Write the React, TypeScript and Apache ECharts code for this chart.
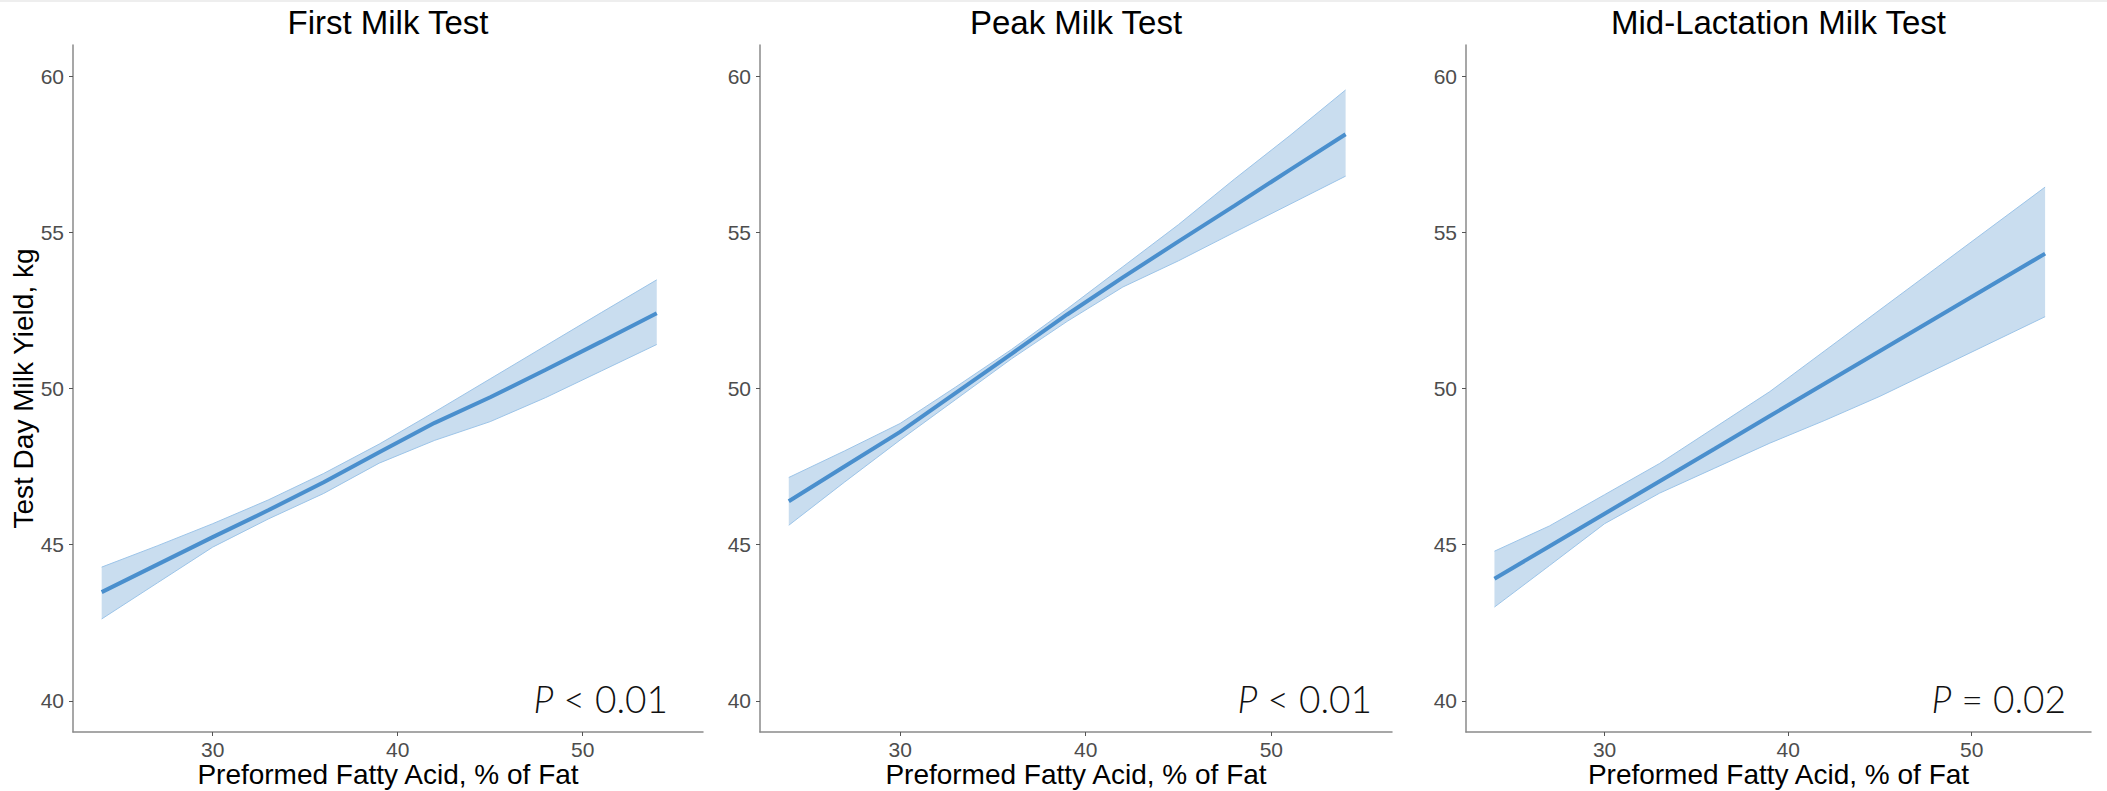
import React, { useEffect, useRef } from "react";
import * as echarts from "echarts";

// Preformed fatty acid (% of fat) at which the fitted curves were read
const fattyAcid = [24, 27, 30, 33, 36, 39, 42, 45, 48, 51, 54];

// First milk test
const firstFit = [43.48, 44.36, 45.24, 46.1, 47.0, 47.96, 48.9, 49.72, 50.6, 51.5, 52.41];
const firstUpper = [44.28, 44.96, 45.67, 46.43, 47.28, 48.22, 49.25, 50.31, 51.37, 52.43, 53.48];
const firstLower = [42.62, 43.77, 44.92, 45.82, 46.64, 47.61, 48.34, 48.94, 49.71, 50.56, 51.41];

// Peak milk test
const peakFit = [46.39, 47.5, 48.61, 49.86, 51.11, 52.37, 53.56, 54.71, 55.85, 57.0, 58.14];
const peakUpper = [47.15, 48.0, 48.88, 50.05, 51.25, 52.55, 53.9, 55.25, 56.7, 58.1, 59.56];
const peakLower = [45.62, 47.0, 48.35, 49.65, 50.95, 52.15, 53.25, 54.09, 55.0, 55.9, 56.8];

// Mid-lactation milk test
const midFit = [43.91, 44.95, 45.99, 47.03, 48.07, 49.12, 50.16, 51.2, 52.24, 53.28, 54.32];
const midUpper = [44.79, 45.6, 46.6, 47.6, 48.75, 49.9, 51.21, 52.52, 53.83, 55.14, 56.45];
const midLower = [43.0, 44.33, 45.67, 46.65, 47.45, 48.25, 48.98, 49.75, 50.6, 51.45, 52.3];

const panelTitles = ["First Milk Test", "Peak Milk Test", "Mid-Lactation Milk Test"];
const pValues = ["< 0.01", "< 0.01", "= 0.02"];
const xTicks = [30, 40, 50];
const yTicks = [40, 45, 50, 55, 60];
const xTitle = "Preformed Fatty Acid, % of Fat";
const yTitle = "Test Day Milk Yield, kg";

const fits = [firstFit, peakFit, midFit];
const uppers = [firstUpper, peakUpper, midUpper];
const lowers = [firstLower, peakLower, midLower];

// layout
const grids = [
  { left: 73, width: 630 },
  { left: 760, width: 632 },
  { left: 1466, width: 625 },
];
const GRID_TOP = 45;
const GRID_H = 687;
const pRight = [668, 1372, 2066];

const FONT = "'Liberation Sans', Arial, sans-serif";
const PFONT = "Lato, 'Open Sans', sans-serif";
const PSIZE = 37;
const LINE = "#4a8fcd";
const FILL = "#c9ddef";
const EDGE = "#9cc4e8";
const AXIS = "#8a8a8a";

function measure(text: string, font: string): number {
  const c = document.createElement("canvas").getContext("2d");
  if (!c) return text.length * 18;
  c.font = font;
  return c.measureText(text).width;
}

export default function App() {
  const ref = useRef<HTMLDivElement>(null);
  useEffect(() => {
    if (!ref.current) return;
    const chart = echarts.init(ref.current, null, { renderer: "svg" });

    const gridOpts = grids.map((g) => ({
      left: g.left,
      width: g.width,
      top: GRID_TOP,
      height: GRID_H,
      containLabel: false,
    }));

    const xAxes = grids.map((_, i) => ({
      gridIndex: i,
      type: "value",
      min: 22.45,
      max: 56.5,
      axisLine: { show: true, onZero: false, lineStyle: { color: AXIS, width: 1.5 } },
      axisTick: { show: true, length: 4, lineStyle: { color: "#555" }, customValues: xTicks },
      axisLabel: { customValues: xTicks, fontSize: 21, color: "#4d4d4d", margin: 7, fontFamily: FONT },
      splitLine: { show: false },
    }));

    const yAxes = grids.map((_, i) => ({
      gridIndex: i,
      type: "value",
      min: 39,
      max: 61,
      axisLine: { show: true, onZero: false, lineStyle: { color: AXIS, width: 1.5 } },
      axisTick: { show: true, length: 4, lineStyle: { color: "#555" }, customValues: yTicks },
      axisLabel: { customValues: yTicks, fontSize: 21, color: "#4d4d4d", margin: 9, fontFamily: FONT },
      splitLine: { show: false },
    }));

    const series: any[] = [];
    grids.forEach((_, i) => {
      const lo = lowers[i];
      const up = uppers[i];
      const fit = fits[i];
      const bandData = fattyAcid.map((x, j) => [x, lo[j], up[j]]);
      series.push({
        type: "custom",
        xAxisIndex: i,
        yAxisIndex: i,
        silent: true,
        z: 1,
        data: bandData,
        encode: { x: 0, y: [1, 2] },
        renderItem: (params: any, api: any) => {
          if (params.dataIndex !== 0) return null;
          const upperPts = bandData.map((d) => api.coord([d[0], d[2]]));
          const lowerPts = bandData.map((d) => api.coord([d[0], d[1]])).reverse();
          return {
            type: "polygon",
            shape: { points: upperPts.concat(lowerPts) },
            style: { fill: FILL, stroke: "none" },
          };
        },
      });
      series.push({
        type: "line",
        xAxisIndex: i,
        yAxisIndex: i,
        symbol: "none",
        silent: true,
        lineStyle: { color: EDGE, width: 1 },
        data: fattyAcid.map((x, j) => [x, lo[j]]),
        z: 2,
      });
      series.push({
        type: "line",
        xAxisIndex: i,
        yAxisIndex: i,
        symbol: "none",
        silent: true,
        lineStyle: { color: EDGE, width: 1 },
        data: fattyAcid.map((x, j) => [x, up[j]]),
        z: 2,
      });
      series.push({
        type: "line",
        xAxisIndex: i,
        yAxisIndex: i,
        symbol: "none",
        silent: true,
        lineStyle: { color: LINE, width: 4 },
        data: fattyAcid.map((x, j) => [x, fit[j]]),
        z: 3,
      });
    });

    const graphics: any[] = [
      {
        type: "rect",
        shape: { x: 0, y: 0, width: 2107, height: 2 },
        style: { fill: "#eeeeee" },
        silent: true,
      },
      {
        type: "text",
        x: 23,
        y: GRID_TOP + GRID_H / 2,
        rotation: Math.PI / 2,
        style: {
          text: yTitle,
          font: `28px ${FONT}`,
          fill: "#000",
          textAlign: "center",
          textVerticalAlign: "middle",
        },
      },
    ];
    const restFont = `300 ${PSIZE}px ${PFONT}`;
    grids.forEach((g, i) => {
      const cx = g.left + g.width / 2;
      graphics.push({
        type: "text",
        x: cx,
        y: 22,
        style: {
          text: panelTitles[i],
          font: `33px ${FONT}`,
          fill: "#000",
          textAlign: "center",
          textVerticalAlign: "middle",
        },
      });
      graphics.push({
        type: "text",
        x: cx,
        y: 774,
        style: {
          text: xTitle,
          font: `28px ${FONT}`,
          fill: "#000",
          textAlign: "center",
          textVerticalAlign: "middle",
        },
      });
      const rest = " " + pValues[i];
      const restW = measure(rest, restFont);
      graphics.push({
        type: "text",
        x: pRight[i],
        y: 698,
        z: 10,
        style: {
          text: rest,
          font: restFont,
          fill: "#111",
          textAlign: "right",
          textVerticalAlign: "middle",
        },
      });
      graphics.push({
        type: "text",
        x: pRight[i] - restW,
        y: 698,
        z: 10,
        style: {
          text: "P",
          font: `italic 300 ${PSIZE}px ${PFONT}`,
          fill: "#111",
          textAlign: "right",
          textVerticalAlign: "middle",
        },
      });
    });

    chart.setOption({
      animation: false,
      backgroundColor: "#ffffff",
      grid: gridOpts,
      xAxis: xAxes,
      yAxis: yAxes,
      series,
      graphic: graphics,
    });

    return () => chart.dispose();
  }, []);

  return (
    <div
      ref={ref}
      style={{ position: "fixed", left: 0, top: 0, width: 2107, height: 791, background: "#fff" }}
    />
  );
}
